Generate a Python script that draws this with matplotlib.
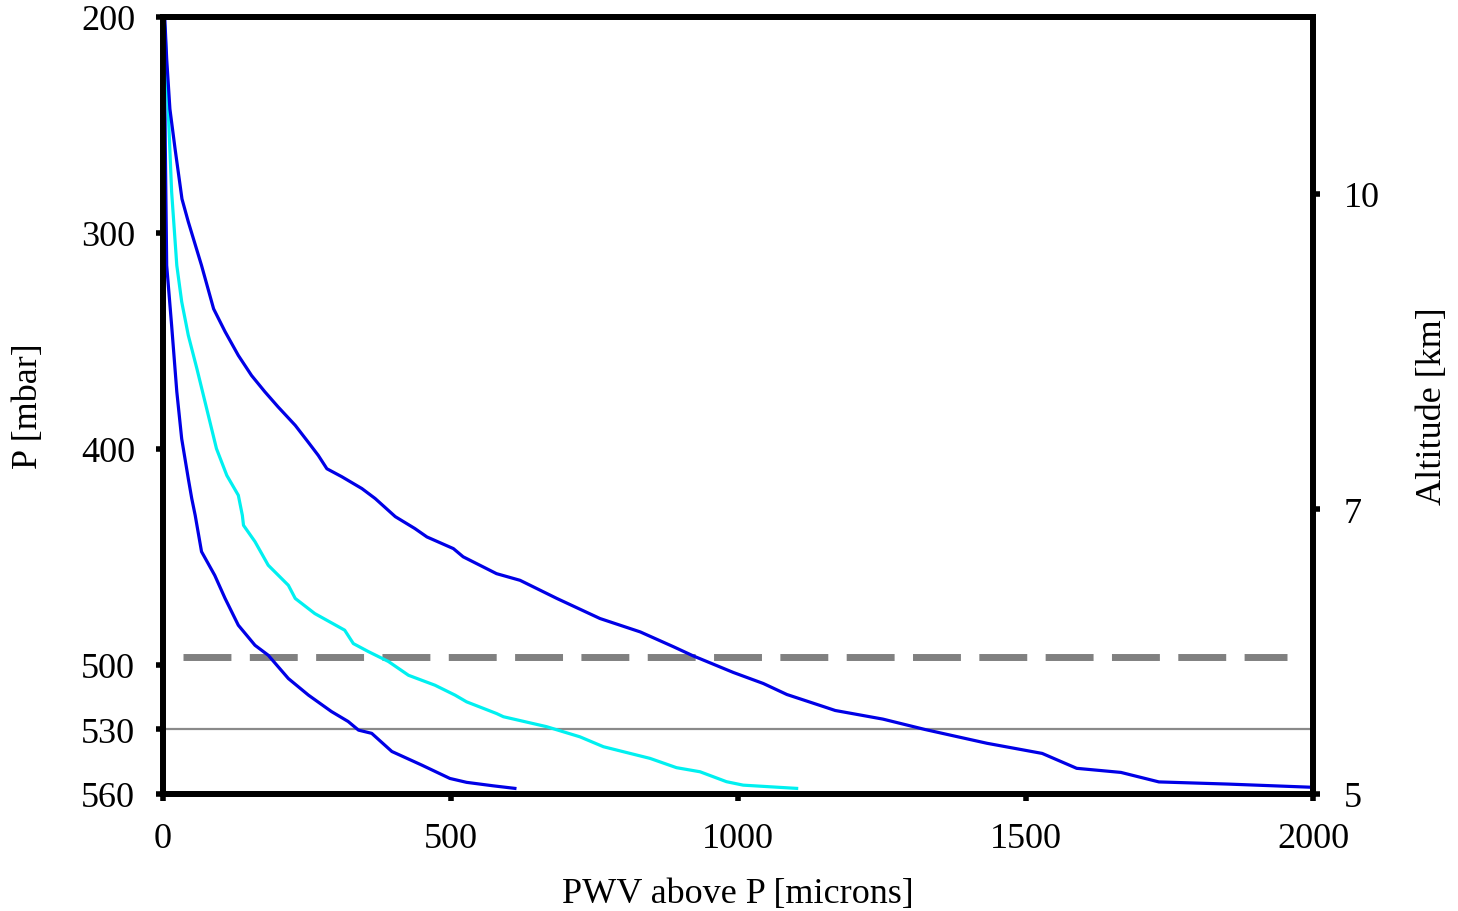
import matplotlib
matplotlib.use("Agg")
import matplotlib.pyplot as plt

plt.rcParams['font.family'] = ['Liberation Serif', 'DejaVu Serif']

# ---- data (PWV above P [microns], P [mbar]) ----
outer_pwv = [3, 6.4, 12, 21, 33, 44, 67, 88, 108, 131, 154, 177, 200, 230, 252, 270, 285, 311,
             346, 369, 404, 438, 459, 505, 522, 580, 621, 685, 760, 830, 888, 922, 992,
             1044, 1085, 1151, 1169, 1252, 1325, 1433, 1529, 1589, 1666, 1732, 1852, 2000]
outer_p = [200, 219.4, 242.6, 261.1, 284.3, 294.9, 315.1, 335.2, 345.8, 356.8, 366.1, 373.6, 380.6,
           389.2, 396.8, 403.1, 409.3, 413.0, 418.5, 423.1, 431.5, 437.0, 440.9, 446.3, 450.1,
           457.9, 461.0, 469.4, 478.7, 484.9, 491.8, 496.0, 503.7, 508.8, 513.9, 519.7, 521.3,
           525.3, 530.1, 536.5, 541.2, 548.1, 550.0, 554.4, 555.4, 556.9]

cyan_pwv = [1, 3.5, 9, 15, 24, 32.5, 44, 59, 76, 93, 111, 131, 138, 140, 160, 183, 218, 230,
            264, 316, 331, 357, 392, 427, 473, 508, 528, 580, 592, 667, 725, 766, 847, 893,
            934, 980, 1009, 1102]
cyan_p = [200, 205.6, 242.6, 281.0, 315.1, 331.9, 347.5, 363.0, 381.5, 400.0, 412.4, 421.6,
          430.9, 435.5, 443.1, 454.0, 463.3, 469.4, 476.4, 484.1, 490.3, 494.0, 498.6, 505.0,
          509.6, 514.2, 517.3, 522.7, 524.2, 528.8, 533.5, 538.1, 543.5, 547.8, 549.7, 554.3,
          555.9, 557.4]

inner_pwv = [2, 4, 6.4, 15, 24, 32.5, 44, 50, 56, 59, 67, 90, 108, 131, 160, 183, 218, 253,
             293, 322, 340, 363, 398, 450, 499, 528, 574, 612]
inner_p = [200, 260, 315.1, 342.9, 373.6, 395.4, 413.9, 423.1, 430.9, 435.5, 447.7, 458.7,
           469.4, 481.8, 491.1, 495.7, 506.5, 514.2, 521.8, 526.4, 530.4, 531.9, 540.3, 546.6,
           552.8, 554.6, 556.2, 557.4]

dashed_p = 496.3
dashed_x = [35, 1955]
ref_p = 530

p_ticks = [200, 300, 400, 500, 530, 560]
x_ticks = [0, 500, 1000, 1500, 2000]
alt_tick_p = [282, 428, 560]
alt_tick_labels = ['10', '7', '5']

# ---- figure ----
fig = plt.figure(figsize=(14.58, 9.12), dpi=100)
ax = fig.add_axes([163/1458, 117/912, 1150/1458, 777/912])

ax.plot(inner_pwv, inner_p, color='#0000e6', lw=2.3, zorder=3)
ax.plot(cyan_pwv, cyan_p, color='#00f0f0', lw=2.3, zorder=3)
ax.plot(outer_pwv, outer_p, color='#0000e6', lw=2.3, zorder=3)

ax.plot(dashed_x, [dashed_p, dashed_p], color='#808080', lw=5,
        ls=(0, (6.9, 2.65)), dash_capstyle='butt', zorder=2)
ax.axhline(ref_p, color='#8a8a8a', lw=1.6, zorder=2)

ax.set_xlim(0, 2000)
ax.set_ylim(560, 200)
ax.set_xticks(x_ticks)
ax.set_yticks(p_ticks)

for s in ax.spines.values():
    s.set_linewidth(4.2)
    s.set_color('black')

FS = 26
ax.tick_params(axis='both', direction='out', length=5, width=4, labelsize=FS, pad=15,
               color='black')
ax.set_xlabel('PWV above P [microns]', fontsize=FS, labelpad=16)
ax.set_ylabel('P [mbar]', fontsize=FS, labelpad=26)

ax2 = ax.twinx()
ax2.set_ylim(560, 200)
ax2.set_yticks(alt_tick_p)
ax2.set_yticklabels(alt_tick_labels)
ax2.tick_params(axis='y', direction='out', length=5, width=4, labelsize=FS, pad=17)
for s in ax2.spines.values():
    s.set_linewidth(4.2)
ax2.set_ylabel('Altitude [km]', fontsize=FS, labelpad=26)

fig.savefig('out.png', dpi=100)
